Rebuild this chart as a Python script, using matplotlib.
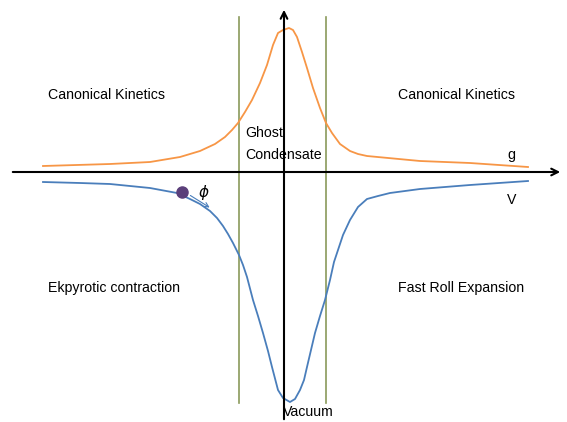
import matplotlib
matplotlib.use("Agg")
import matplotlib.pyplot as plt

# Orange curve g (pixel-space diagram coordinates)
g_x = [43, 110, 150, 180, 200, 215, 225, 232, 238, 245, 252, 260, 267, 273, 278, 283,
       289, 293, 297, 302, 307, 313, 320, 326, 332, 340, 350, 358, 367, 420, 470, 528]
g_y = [166, 164, 162, 157, 151, 144, 137, 130, 123, 112, 100, 83, 65, 45, 33, 30,
       28, 30, 37, 52, 68, 88, 108, 123, 133, 144, 151, 154, 156, 161, 163, 167]

# Blue curve V
v_x = [43, 80, 110, 150, 177, 190, 200, 210, 217, 223, 228, 233, 239, 243, 247, 253,
       258, 263, 268, 272, 278, 283, 290, 295, 300, 304, 307, 311, 315, 320, 325, 330,
       334, 338, 343, 350, 358, 367, 378, 390, 420, 470, 528]
v_y = [182, 183, 184, 188, 193, 199, 204, 211, 218, 226, 234, 243, 255, 265, 277, 300,
       316, 333, 351, 367, 390, 398, 402, 399, 390, 380, 367, 350, 333, 316, 300, 280,
       262, 250, 235, 220, 207, 199, 196, 193, 189, 185, 181]

region_labels = ["Canonical Kinetics", "Canonical Kinetics", "Ekpyrotic contraction",
                 "Fast Roll Expansion"]
region_pos = [(48, 95), (398, 95), (48, 288), (398, 288)]

FONT = "Liberation Sans"
FS = 10.2

fig = plt.figure(figsize=(5.67, 4.22), dpi=100)
ax = fig.add_axes([0, 0, 1, 1])
ax.set_xlim(0, 567)
ax.set_ylim(422, 0)
ax.axis("off")

green = "#8a9a5b"
ax.plot([239, 239], [17, 403], color=green, lw=1.2)
ax.plot([326, 326], [17, 403], color=green, lw=1.2)

# axes arrows
ax.annotate("", xy=(563, 172), xytext=(10, 172),
            arrowprops=dict(arrowstyle="->", color="black", lw=1.5, mutation_scale=12))
ax.annotate("", xy=(284, 7), xytext=(284, 422),
            arrowprops=dict(arrowstyle="->", color="black", lw=1.5, mutation_scale=12))

ax.plot(g_x, g_y, color="#f79646", lw=1.3, solid_joinstyle="round")
ax.plot(v_x, v_y, color="#4a7ebb", lw=1.3, solid_joinstyle="round")

for t, (x, y) in zip(region_labels, region_pos):
    ax.text(x, y, t, fontsize=FS, family=FONT, va="center", ha="left")

ax.text(245, 133, "Ghost", fontsize=FS, family=FONT, va="center", ha="left")
ax.text(245, 155, "Condensate", fontsize=FS, family=FONT, va="center", ha="left")
ax.text(283, 412, "Vacuum", fontsize=FS, family=FONT, va="center", ha="left")
ax.text(511, 155, "g", fontsize=FS, family=FONT, va="center", ha="center")
ax.text(512, 200, "V", fontsize=FS, family=FONT, va="center", ha="center")
ax.text(204, 193, r"$\phi$", fontsize=11, va="center", ha="center")

ax.plot([182], [192], "o", color="#5b3f7a", ms=8)
ax.annotate("", xy=(212, 209), xytext=(188, 194),
            arrowprops=dict(arrowstyle="->", color="#4a7ebb", lw=0.8, mutation_scale=8))

fig.savefig("out.png", dpi=100)
